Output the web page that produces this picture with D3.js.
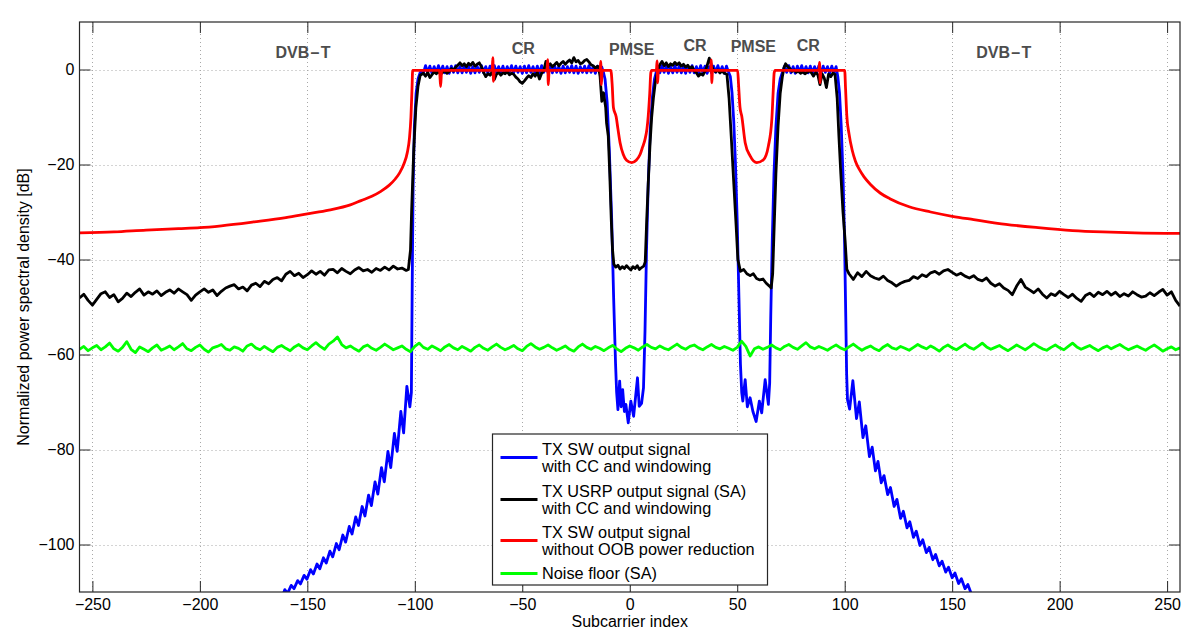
<!DOCTYPE html>
<html><head><meta charset="utf-8">
<script src="https://cdn.jsdelivr.net/npm/d3@7"></script>
<style>
html,body{margin:0;padding:0;background:#fff;}
svg{display:block;font-family:"Liberation Sans",Arial,Helvetica,sans-serif;}
</style></head>
<body><svg id="chart" width="1200" height="631"></svg>
<script>
// ---------- DATA ----------
const xTicks = [-250,-200,-150,-100,-50,0,50,100,150,200,250];
const yTicks = [-100,-80,-60,-40,-20,0];

// Noise floor (SA), subcarriers -256..256 step 2
const noiseStart = -256, noiseStep = 2;
const noiseFloor = [
-58.9,-58.3,-59.2,-58.6,-58.1,-59.0,-58.4,-57.6,-58.8,-59.3,-58.5,-57.3,-58.9,-59.6,-58.4,-58.9,
-59.4,-58.6,-58.0,-59.1,-58.7,-58.2,-59.0,-58.4,-57.7,-58.8,-59.2,-58.5,-58.0,-58.9,-59.5,-58.6,
-58.3,-57.9,-58.8,-59.1,-58.4,-58.7,-59.3,-58.2,-57.8,-58.6,-59.0,-58.3,-58.9,-59.4,-58.5,-58.1,
-58.7,-59.2,-58.4,-57.9,-58.6,-59.0,-58.2,-57.5,-58.3,-58.9,-57.8,-57.2,-56.3,-57.9,-58.6,-58.2,
-58.8,-59.3,-58.4,-58.0,-58.7,-59.1,-58.5,-57.8,-58.4,-59.0,-58.6,-58.2,-58.9,-59.4,-58.3,-57.6,
-58.5,-58.9,-58.2,-58.7,-59.2,-58.4,-57.9,-58.6,-59.0,-58.3,-58.8,-59.3,-58.5,-58.0,-58.7,-59.1,
-58.4,-57.8,-58.5,-59.0,-58.6,-58.1,-58.8,-59.2,-58.3,-57.7,-58.4,-58.9,-58.5,-58.0,-58.6,-59.1,
-58.7,-58.2,-58.9,-59.3,-58.4,-57.8,-58.5,-58.9,-58.3,-58.7,-59.2,-58.6,-58.1,-58.8,-59.4,-58.7,
-58.2,-58.6,-59.1,-58.4,-57.9,-58.5,-58.8,-58.2,-58.7,-59.0,-58.4,-57.8,-58.5,-58.9,-58.3,-58.0,
-58.6,-59.0,-58.4,-57.9,-58.5,-58.8,-58.3,-58.7,-59.1,-58.5,-57.2,-58.3,-60.3,-58.8,-58.4,-58.9,
-58.5,-58.0,-58.6,-59.0,-58.3,-57.9,-58.5,-58.9,-58.2,-57.5,-58.4,-58.8,-58.3,-58.7,-59.1,-58.5,
-58.0,-58.6,-59.0,-58.4,-57.8,-58.5,-59.1,-58.6,-58.2,-58.8,-59.2,-58.4,-57.9,-58.6,-58.9,-58.3,
-58.7,-59.1,-58.5,-57.9,-58.4,-58.8,-58.2,-58.7,-59.3,-58.5,-58.0,-58.6,-59.0,-58.4,-57.8,-58.5,
-58.9,-58.3,-57.6,-58.4,-58.9,-58.5,-58.1,-58.7,-59.2,-58.6,-58.0,-58.5,-59.0,-58.4,-57.7,-58.3,
-58.8,-59.1,-58.5,-58.0,-58.6,-59.0,-58.3,-57.6,-58.4,-58.9,-58.5,-58.1,-58.7,-59.2,-58.6,-58.2,
-58.8,-58.3,-57.9,-58.5,-59.0,-58.6,-58.2,-58.7,-59.1,-58.5,-58.0,-58.6,-59.3,-58.8,-58.4,-59.0,
-58.6];

// TX USRP output (SA): out-of-band left (-256..-104 step 2), in-band pairs, out-of-band right (102..256 step 2)
const usrpLeftStart = -256, usrpRightStart = 102, usrpStep = 2;
const usrpLeft = [
-48.1,-47.3,-48.6,-49.6,-48.4,-47.2,-46.8,-48.0,-47.4,-48.9,-48.2,-47.1,-47.8,-46.9,-46.2,-47.5,
-46.8,-47.3,-46.6,-47.6,-46.9,-46.4,-47.1,-46.2,-46.8,-47.4,-48.6,-47.5,-46.8,-46.2,-46.9,-46.4,
-47.6,-46.7,-46.0,-45.6,-45.3,-46.2,-45.8,-46.6,-45.4,-45.0,-45.7,-44.6,-45.1,-44.2,-43.8,-44.5,
-43.1,-42.5,-43.4,-42.9,-43.8,-43.2,-42.4,-43.1,-42.5,-43.3,-42.2,-42.1,-42.8,-41.9,-42.5,-43.0,
-42.2,-41.7,-42.4,-42.1,-42.7,-41.9,-42.3,-41.6,-42.2,-41.4,-42.0,-41.8,-42.3];
const usrpInband = [
[-103,-42.1],[-102,-38],[-101.5,-30],[-100.5,-17],[-99.5,-8],[-98.5,-3.5],[-97.5,-1.2],
[-96,-0.8],[-95,-1.4],[-94,-0.6],[-93,-1.7],[-92,-1.1],[-91,-0.5],[-90,-0.9],[-89,-0.4],[-88,-1.0],[-87,-0.6],
[-86,-0.2],[-85,-0.8],[-84,-0.4],[-83,0.2],[-82,-0.3],[-81,0.5],[-80,0.9],[-79,1.4],[-78,0.8],[-77,1.2],
[-76,0.6],[-75,1.3],[-74,0.9],[-73,1.5],[-72,0.7],[-71,1.1],[-70,1.4],[-69,0.6],[-68,-0.6],[-67,-1.5],
[-66,-0.9],[-65,-1.2],[-64,-0.5],[-63,-2.1],[-62,-1.0],[-61,-0.6],[-60,-1.2],[-59,-0.7],[-58,-0.9],[-57,-0.4],
[-56,-1.1],[-55,-0.8],[-54,-1.0],[-53,-1.6],[-52,-2.0],[-51,-2.6],[-50,-2.9],[-49,-2.4],[-48,-1.8],[-47,-1.3],
[-46,-1.7],[-45,-0.9],[-44,-1.4],[-43,-0.6],[-42,-2.0],[-41,-0.8],[-40,-0.2],[-39,1.7],[-38,0.9],[-37,1.2],
[-36,0.6],[-35,1.0],[-34,1.5],[-33,0.8],[-32,1.3],[-31,1.7],[-30,1.1],[-29,1.6],[-28,2.0],[-27,1.4],
[-26,2.5],[-25,1.6],[-24,1.9],[-23,1.2],[-22,1.4],[-21,1.9],[-20,2.1],[-19,1.6],[-18,1.0],[-17,0.8],
[-16,0.3],[-15,0.7],[-14.5,0.5],[-13.8,-1.5],[-13,-6.7],[-12.2,-4.9],[-11.2,-8],[-10.8,-11.2],[-10,-14],
[-9.3,-22],[-8.6,-31.6],[-8,-38],[-7.4,-41.0],[-6.5,-41.6],[-5.5,-41.2],[-4.5,-42.0],[-3.5,-41.5],
[-2.5,-41.9],[-1.5,-41.3],[-0.5,-41.8],[0.5,-42.2],[1.5,-41.5],[2.5,-41.9],[3.5,-41.3],[4.5,-42.1],
[5.5,-41.7],[6.5,-41.4],[7.2,-40.5],[7.9,-31.6],[8.6,-24],[9.4,-16],[10.2,-10],[11,-6],[11.8,-3],
[12.6,-1.2],[13.3,0.3],[14,1.0],[15,1.7],[16,0.8],[17,1.4],[18,0.6],[19,1.2],[20,0.9],[21,1.5],[22,1.0],
[23,1.4],[24,0.7],[25,1.1],[26,0.5],[27,0.9],[28,0.2],[29,0.6],[30,-0.3],[31,-0.7],[32,-1.4],[33,-0.9],
[34,-1.2],[35,-0.4],[36,0.8],[37,2.4],[38,0.9],[39,-0.2],[40,-0.5],[41,-0.1],[42,-0.7],[43,-0.3],[44,-0.8],
[45.2,-1.0],[46.2,-6],[47.2,-14],[48.4,-24],[49.5,-33],[50.3,-40],[51.5,-42.5],[53,-42.1],[54.5,-43.0],
[56,-43.4],[57.5,-43.0],[59,-44.0],[60.5,-44.3],[62,-44.1],[63.5,-45.0],[65,-45.6],[65.8,-46.0],
[66.5,-43],[67.2,-33],[68,-22],[69,-12],[70,-5],[71,-1.5],[71.8,0.4],[72.5,1.2],[73.5,0.6],[74.5,0.2],
[75.5,-0.4],[76.5,-0.1],[77.5,-0.6],[78.5,-0.3],[79.5,-0.8],[80.5,-0.5],[81.5,-0.9],[82.5,-0.6],[83.5,-0.2],
[84.5,-0.7],[85.5,-1.4],[86.5,-0.6],[87.5,-1.1],[88.5,-3.2],[89.5,-0.9],[90.5,-1.8],[91.5,-3.8],[92.5,-1.0],
[93.5,-1.5],[94.5,-0.8],[95.5,-1.0],[96.5,-6],[97.3,-14],[98.2,-22],[99.2,-30],[100.2,-36],[101,-42.1]];
const usrpRight = [
-43.0,-44.2,-42.8,-43.6,-42.5,-43.4,-43.9,-44.2,-43.5,-44.4,
-44.9,-45.6,-45.0,-44.6,-44.4,-43.6,-44.0,-43.2,-43.6,-42.8,
-42.5,-43.1,-42.4,-42.1,-42.7,-43.3,-42.9,-43.5,-43.9,-43.4,
-44.2,-44.5,-43.9,-45.0,-45.6,-45.1,-46.0,-46.5,-47.4,-45.6,
-44.2,-45.8,-46.4,-47.0,-46.2,-47.3,-48.1,-47.2,-47.6,-46.7,
-47.4,-48.0,-47.3,-48.2,-48.8,-47.6,-47.1,-47.8,-46.9,-47.4,
-46.7,-47.5,-46.9,-47.8,-47.2,-47.7,-46.8,-47.4,-47.9,-47.7,
-47.0,-47.6,-46.9,-46.3,-47.5,-46.8,-48.6,-49.8];

// TX SW output without OOB power reduction
const swNoReduction = [
[-256,-34.4],[-240,-34.2],[-225,-33.8],[-210,-33.5],[-200,-33.3],[-190,-32.9],[-175,-32.1],[-160,-31.2],
[-150,-30.4],[-140,-29.6],[-130,-28.5],[-125,-27.6],[-120,-26.7],[-116,-25.7],[-112,-24.4],[-109,-23.0],
[-107,-21.7],[-105,-19.8],[-103.5,-17.5],[-102.5,-14.5],[-101.8,-10],[-101.3,-4],[-101,-0.2],
[-88.5,-0.2],[-88,-3.6],[-87.5,-0.2],[-64,-0.2],[-63.7,2.5],[-63.4,-2.5],[-63,-0.2],
[-38.5,-0.2],[-38.2,2.1],[-37.9,-3.2],[-37.5,-0.2],[-13.8,-0.2],[-13.5,1.7],[-13.2,-3.2],[-12.8,-0.2],
[-8.8,-0.2],[-8.2,-3],[-7.6,-8],[-6.3,-10],[-5.5,-12.5],[-4.5,-15.4],[-3,-17.9],[-1.5,-19.1],[0.9,-19.6],
[3,-19.1],[4.8,-17.9],[6,-16.3],[7.1,-14.7],[8,-12.5],[8.6,-9.8],[9.3,-5],[9.8,-0.7],[10.2,-0.2],
[12.4,-0.2],[12.7,1.8],[13,-2.8],[13.3,-0.2],[37.6,-0.2],[37.9,2.0],[38.2,-2.8],[38.5,-0.2],
[50.2,-0.2],[50.6,-3],[51.3,-8],[52.1,-9.8],[53.7,-15.4],[56,-18.2],[59.1,-19.6],[62.2,-19],[64.5,-16.1],
[66.1,-10.5],[66.7,-5],[67.2,-0.7],[67.6,-0.2],[88,-0.2],[88.3,1.5],[88.6,-2.8],[88.9,-0.2],
[100,-0.2],[100.4,-4],[101,-9.8],[102,-13.5],[103.5,-17],[105,-19.3],[107,-21.2],[109,-22.6],[112,-24.2],
[116.5,-26],[121,-27.2],[130,-28.9],[140,-30],[150,-30.9],[160,-31.6],[175,-32.6],[190,-33.3],[206,-33.9],
[220,-34.2],[235,-34.4],[256,-34.5]];

// TX SW output with CC and windowing
const swLeftSkirt = [
[-162,-111.5],[-160.5,-109.5],[-159.2,-110.3],[-157.5,-108.6],[-156.2,-109.3],[-154.5,-107.6],[-153.2,-108.3],
[-151.5,-106.5],[-150.2,-107.3],[-148.5,-105.3],[-147.2,-106.2],[-145.5,-104.1],[-144.2,-105.1],[-142.5,-102.8],
[-141.2,-103.9],[-139.5,-101.4],[-138.2,-102.6],[-136.5,-99.8],[-135.2,-101.1],[-133.5,-98.0],[-132.2,-99.5],
[-130.5,-96.2],[-129.2,-97.8],[-127.5,-94.2],[-126.2,-96.0],[-124.5,-92.0],[-123.2,-94.0],[-121.5,-89.6],
[-120.2,-91.8],[-118.5,-86.8],[-117.2,-89.4],[-115.5,-83.8],[-114.2,-86.8],[-112.5,-80.4],[-111.2,-83.8],
[-109.5,-76.6],[-108.2,-80.4],[-106.5,-72.0],[-105.2,-76.5],[-103.7,-66.7],[-102.3,-71.0],[-101.6,-68],
[-101.2,-45],[-100.8,-25],[-100.2,-12],[-99.4,-5],[-98.5,-2],[-97.5,-0.6]];
const swBand1Start = -97;
const swBand1 = [
-0.6,-0.7,0.8,-0.6,0.7,-0.8,0.6,-0.7,0.8,-0.6,0.7,-0.7,0.6,-0.8,0.7,-0.6,0.8,-0.7,0.6,-0.7,
0.8,-0.6,0.7,-0.8,0.6,-0.7,0.7,-0.6,0.8,-0.7,0.6,-0.8,0.7,-0.6,0.8,-0.7,0.6,-0.7,0.7,-0.8,
0.6,-0.6,0.8,-0.7,0.7,-0.6,0.6,-0.8,0.7,-0.7,0.8,-0.6,0.6,-0.7,0.7,-0.8,0.8,-0.6,0.6,-0.7,
0.7,-0.7,0.8,-0.6,0.6,-0.8,0.7,-0.7,0.6,-0.6,0.8,-0.7,0.7,-0.8,0.6,-0.6,0.7,-0.7,0.8,-0.6,
0.6,-0.8,0.7,-0.6,0.5];
const swDip1 = [
[-12.3,-0.5],[-11.5,-2],[-10.5,-7],[-9.5,-17],[-8.4,-31.6],[-7.5,-48],[-6.6,-62],[-6.1,-68],[-5.5,-71.6],
[-4.7,-65.6],[-4,-71],[-3.3,-67.4],[-2.5,-72],[-1.8,-70.5],[-0.7,-74.4],[0.5,-69.8],[1.8,-73],[3.6,-64.9],
[4.4,-70.9],[5.5,-70.3],[6.4,-67],[7.1,-55],[7.8,-38],[8.6,-24],[9.5,-13],[10.5,-6],[11.5,-2],[12.3,-0.6]];
const swBand2Start = 13;
const swBand2 = [
0.6,-0.7,0.8,-0.6,0.7,-0.8,0.6,-0.7,0.8,-0.6,0.7,-0.7,0.6,-0.8,0.7,-0.6,0.8,-0.7,0.6,-0.7,
0.8,-0.6,0.7,-0.8,0.6,-0.7,0.7,-0.6,0.8,-0.7,0.6,-0.8,0.7,-0.6];
const swDip2 = [
[46.8,-1.5],[47.6,-5],[48.4,-11],[49.2,-20],[50,-32],[50.8,-48],[51.5,-62],[52.1,-68],[52.6,-69.8],
[53.7,-65.3],[54.7,-71],[56,-69.1],[57.3,-72],[58.8,-74.1],[60.3,-69.8],[61.4,-72.3],[63,-65.3],[64.5,-70.5],
[65.1,-66],[65.6,-52],[66.3,-36],[67.1,-22],[68,-12],[69,-5],[70,-2],[71,-0.6]];
const swBand3Start = 72;
const swBand3 = [
0.7,-0.6,0.8,-0.7,0.6,-0.8,0.7,-0.6,0.8,-0.7,0.6,-0.7,0.7,-0.8,0.6,-0.6,0.8,-0.7,0.7,-0.6,
0.6,-0.8,0.7,-0.7,0.6];
const swRightSkirt = [
[96.8,-1.5],[97.6,-5],[98.4,-12],[99.2,-22],[99.9,-35],[100.5,-52],[100.9,-64],[101.3,-69.5],[102.3,-71.5],
[103.8,-65.5],[105.5,-73.5],[106.8,-70],[108.5,-77.5],[109.8,-75],[111.5,-81.5],[112.8,-79.5],[114.3,-84.5],
[115.5,-82.5],[117,-87],[118.3,-85.5],[120,-89.5],[121.3,-88],[123,-92],[124.3,-90.5],[126,-94.5],[127.3,-93],
[129,-96.5],[130.3,-95.2],[132,-98.5],[133.3,-97.2],[135,-100.2],[136.3,-99],[138,-101.7],[139.3,-100.6],
[141,-103.2],[142.3,-102.1],[144,-104.5],[145.3,-103.5],[147,-105.8],[148.3,-104.8],[150,-107],[151.3,-106],
[153,-108.2],[154.3,-107.2],[156,-109.3],[157.3,-108.4],[159,-110.5],[161,-111.5]];

const bandLabels = [
  {text:"DVB\u200A\u2013\u200AT", x:-152, y:3.7},
  {text:"CR", x:-49.5, y:4.5},
  {text:"PMSE", x:0.9, y:4.2},
  {text:"CR", x:30.4, y:5.2},
  {text:"PMSE", x:57.5, y:4.8},
  {text:"CR", x:83.1, y:5.2},
  {text:"DVB\u200A\u2013\u200AT", x:174, y:3.7}
];
const legendEntries = [
  {lines:["TX SW output signal","with CC and windowing"], color:"#0000ff"},
  {lines:["TX USRP output signal (SA)","with CC and windowing"], color:"#000000"},
  {lines:["TX SW output signal","without OOB power reduction"], color:"#ff0000"},
  {lines:["Noise floor (SA)"], color:"#00ff00"}
];

// ---------- BUILD SERIES ----------
const fromValues = (vals, start, step) => vals.map((v,i)=>[start+i*step, v]);
const seriesSW = [].concat(swLeftSkirt, fromValues(swBand1, swBand1Start, 1), swDip1,
  fromValues(swBand2, swBand2Start, 1), swDip2, fromValues(swBand3, swBand3Start, 1), swRightSkirt);
const seriesUSRP = [].concat(fromValues(usrpLeft, usrpLeftStart, usrpStep), usrpInband,
  fromValues(usrpRight, usrpRightStart, usrpStep));
const seriesNoise = fromValues(noiseFloor, noiseStart, noiseStep);

// ---------- CHART ----------
const L=79.5, R=1180, T=22, B=592;
const svg = d3.select("#chart");
const x = d3.scaleLinear().domain([-256,256]).range([L,R]);
const y = d3.scaleLinear().domain([-110,10]).range([B,T]);

svg.append("defs").append("clipPath").attr("id","clip")
  .append("rect").attr("x",L).attr("y",T).attr("width",R-L).attr("height",B-T);

// grid
const grid = svg.append("g").attr("stroke","#a8a8a8").attr("stroke-width",1).attr("stroke-dasharray","1,3");
grid.selectAll(".gx").data(xTicks).join("line")
  .attr("x1",d=>Math.round(x(d))+0.5).attr("x2",d=>Math.round(x(d))+0.5).attr("y1",T).attr("y2",B);
grid.selectAll(".gy").data(yTicks).join("line")
  .attr("y1",d=>Math.round(y(d))+0.5).attr("y2",d=>Math.round(y(d))+0.5).attr("x1",L).attr("x2",R);

// lines
const line = d3.line().x(d=>x(d[0])).y(d=>y(d[1]));
const smoothLine = d3.line().x(d=>x(d[0])).y(d=>y(d[1])).curve(d3.curveMonotoneX);
const plot = svg.append("g").attr("clip-path","url(#clip)")
  .attr("fill","none").attr("stroke-width",2.8).attr("stroke-linejoin","round");
plot.append("path").datum(seriesSW).attr("stroke","#0000ff").attr("d",line);
plot.append("path").datum(seriesUSRP).attr("stroke","#000000").attr("d",line);
plot.append("path").datum(swNoReduction).attr("stroke","#ff0000").attr("d",smoothLine);
plot.append("path").datum(seriesNoise).attr("stroke","#00ff00").attr("d",line);

// axes
const fs = 16;
function styleAxis(g){
  g.select(".domain").remove();
  g.selectAll(".tick line").attr("stroke","#262626").attr("stroke-width",1);
  g.selectAll(".tick text").attr("fill","#000").attr("font-size",fs).attr("font-family","Liberation Sans, Arial, sans-serif");
}
svg.append("g").attr("transform",`translate(0,${B})`)
  .call(d3.axisBottom(x).tickValues(xTicks).tickSizeInner(-11).tickSizeOuter(0).tickPadding(7)).call(styleAxis);
svg.append("g").attr("transform",`translate(0,${T})`)
  .call(d3.axisTop(x).tickValues(xTicks).tickSizeInner(-11).tickSizeOuter(0).tickFormat("")).call(styleAxis);
svg.append("g").attr("transform",`translate(${L},0)`)
  .call(d3.axisLeft(y).tickValues(yTicks).tickSizeInner(-11).tickSizeOuter(0).tickPadding(5)).call(styleAxis);
svg.append("g").attr("transform",`translate(${R},0)`)
  .call(d3.axisRight(y).tickValues(yTicks).tickSizeInner(-11).tickSizeOuter(0).tickFormat("")).call(styleAxis);

svg.append("rect").attr("x",L).attr("y",T).attr("width",R-L).attr("height",B-T)
  .attr("fill","none").attr("stroke","#262626").attr("stroke-width",1.2);

// axis titles
svg.append("text").attr("x",(L+R)/2).attr("y",627).attr("text-anchor","middle")
  .attr("font-size",16).text("Subcarrier index");
svg.append("text").attr("transform",`translate(29,${(T+B)/2}) rotate(-90)`).attr("text-anchor","middle")
  .attr("font-size",16).text("Normalized power spectral density [dB]");

// band labels
svg.append("g").selectAll("text").data(bandLabels).join("text")
  .attr("x",d=>x(d.x)).attr("y",d=>y(d.y)).attr("dy","0.36em").attr("text-anchor","middle")
  .attr("font-size",16).attr("font-weight","bold").attr("fill","#4d4d4d").text(d=>d.text);

// legend
const lg = svg.append("g");
lg.append("rect").attr("x",492.5).attr("y",434).attr("width",275).attr("height",151)
  .attr("fill","#fff").attr("stroke","#262626").attr("stroke-width",1.2);
const rowY = [457.5, 499.5, 540.5, 573.5];
const lineH = 17.5;
legendEntries.forEach((e,i)=>{
  lg.append("line").attr("x1",500.5).attr("x2",537.5).attr("y1",rowY[i]).attr("y2",rowY[i])
    .attr("stroke",e.color).attr("stroke-width",2.8);
  const n = e.lines.length;
  e.lines.forEach((t,j)=>{
    lg.append("text").attr("x",542).attr("y",rowY[i] + (j-(n-1)/2)*lineH).attr("dy","0.36em")
      .attr("font-size",16.3).attr("fill","#000").text(t);
  });
});
</script></body></html>
